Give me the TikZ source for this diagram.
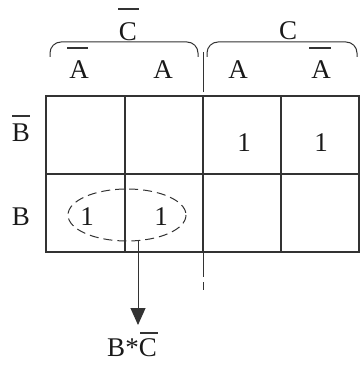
\documentclass[tikz,border=0pt]{standalone}
\usepackage{fontspec}
\setmainfont{Liberation Serif}
\usetikzlibrary{arrows.meta}
\begin{document}
\begin{tikzpicture}[x=1pt,y=-1pt,
  lbl/.style={inner sep=0pt,font=\fontsize{27}{27}\selectfont,text=black!90},
  bar/.style={line width=1.1pt,black!80},
  grid/.style={line width=1.2pt,black!80},
  brace/.style={line width=1pt,black!80,rounded corners=11pt},
  sep/.style={line width=0.9pt,black!80,dash pattern=on 40pt off 3pt on 30pt off 3pt}]
\useasboundingbox (0,0) rectangle (360,366);
% grid
\draw[grid] (46,96) rectangle (359,252);
\draw[grid] (46,174) -- (359,174);
\draw[grid] (125,96) -- (125,252);
\draw[grid] (281,96) -- (281,252);
\draw[grid] (203,96) -- (203,252);
% separator
\draw[sep] (203,52) -- (203,96);
\draw[line width=0.9pt,black!80] (203,252) -- (203,277) (203,282) -- (203,290);
% braces
\draw[brace] (50,57) -- (50,42) -- (198,42) -- (198,57);
\draw[brace] (207,57) -- (207,42) -- (357,42) -- (357,57);
% top labels
\node[lbl] (cbar) at (128,32) {C};
\draw[bar] (118,9) -- (139,9);
\node[lbl] (c) at (288,31) {C};
\node[lbl] (a1) at (79,70) {A};
\draw[bar] (67,48) -- (88,48);
\node[lbl] (a2) at (163,70) {A};
\node[lbl] (a3) at (238,70) {A};
\node[lbl] (a4) at (321,70) {A};
\draw[bar] (309,48) -- (331,48);
% row labels
\node[lbl] (bbar) at (21,133) {B};
\draw[bar] (12,116) -- (30,116);
\node[lbl] (b) at (21,217) {B};
% ones
\node[lbl] (o1) at (244,143) {1};
\node[lbl] (o2) at (321,143) {1};
\node[lbl] (o3) at (87,217) {1};
\node[lbl] (o4) at (161,217) {1};
% group
\draw[line width=1pt,black!80,dash pattern=on 9pt off 5pt] (127,215) ellipse [x radius=59, y radius=26];
\coordinate (gb) at (138,241);
\node[lbl] (res) at (132,348) {B*C};
\draw[bar] (140,333) -- (158,333);
\draw[line width=1pt,black!80,-{Triangle[length=17pt,width=15pt]}] (gb) -- (138,325);
\end{tikzpicture}
\end{document}
